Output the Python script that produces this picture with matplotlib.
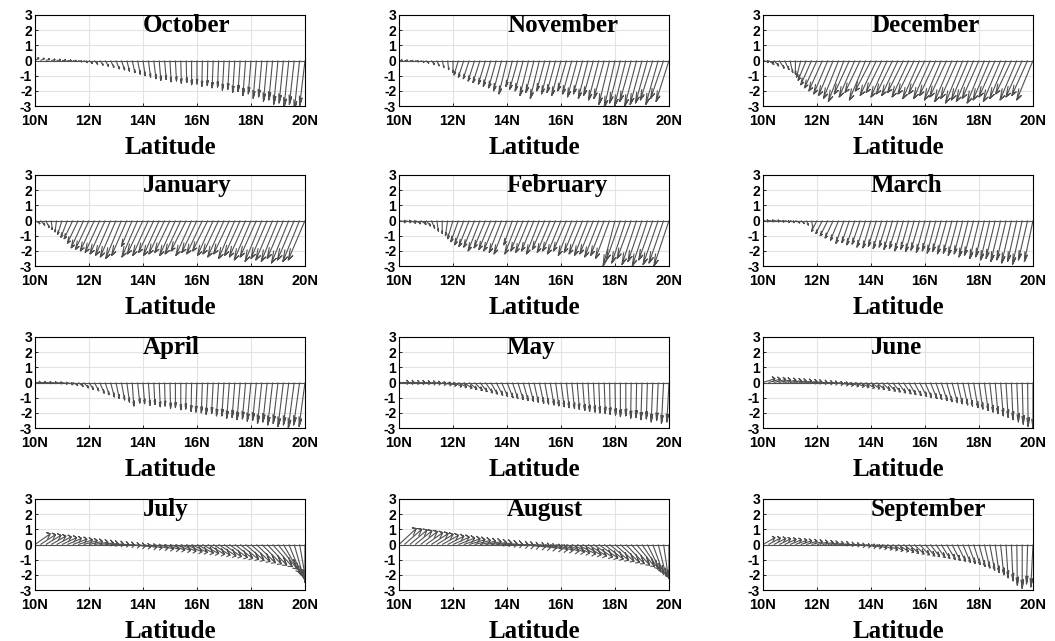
import numpy as np
import matplotlib.pyplot as plt
from matplotlib.collections import LineCollection

plt.rcParams['axes.unicode_minus'] = False

# feather vectors at 0.2 deg steps, 10N..20N (51 points), u/v in plot units
months = ['October', 'November', 'December', 'January', 'February', 'March',
          'April', 'May', 'June', 'July', 'August', 'September']

oct_u = [0.7, 0.7, 0.7, 0.7, 0.7,  0.7, 0.7, 0.7, 0.7, 0.7,  0.6, 0.6, 0.6, 0.6, 0.6,
         0.6, 0.6, 0.5, 0.5, 0.5,  0.4, 0.4, 0.4, 0.3, 0.3,  0.2, 0.2, 0.1, 0.1, 0.0,
         0.0, -0.1, -0.1, -0.2, -0.2,  -0.3, -0.3, -0.4, -0.4, -0.5,  -0.5, -0.6, -0.6, -0.7, -0.7,
         -0.8, -0.8, -0.9, -0.9, -1.0,  -1.0]
oct_v = [0.15, 0.12, 0.08, 0.05, 0.03,  0.0, -0.02, -0.05, -0.08, -0.12,  -0.18, -0.25, -0.3, -0.38, -0.45,
         -0.55, -0.62, -0.7, -0.8, -0.9,  -1.0, -1.1, -1.2, -1.3, -1.25,  -1.4, -1.35, -1.5, -1.45, -1.6,
         -1.55, -1.7, -1.65, -1.8, -1.75,  -1.95, -1.9, -2.1, -2.05, -2.3,  -2.2, -2.5, -2.4, -2.7, -2.6,
         -2.9, -2.8, -3.1, -2.9, -3.3,  -3.0]

nov_u = [0.6, 0.6, 0.6, 0.6, 0.6,  0.5, 0.5, 0.4, 0.3, 0.2,  0.0, -0.8, -1.0, -1.1, -1.2,
         -1.3, -1.3, -1.4, -1.4, -1.5,  -1.5, -1.2, -1.5, -1.5, -1.6,  -1.5, -1.7, -1.5, -1.6, -1.6,
         -1.7, -1.6, -1.7, -1.8, -1.7,  -1.8, -1.8, -1.9, -1.9, -2.0,  -2.0, -2.0, -2.1, -2.1, -2.2,
         -2.2, -2.2, -2.3, -2.3, -2.4,  -2.4]
nov_v = [0.0, -0.02, -0.05, -0.08, -0.12,  -0.18, -0.25, -0.35, -0.45, -0.6,  -0.8, -0.95, -1.1, -1.2, -1.35,
         -1.45, -1.55, -1.7, -1.8, -2.0,  -2.2, -1.7, -1.9, -2.0, -2.3,  -2.1, -2.5, -2.0, -2.2, -2.1,
         -2.3, -2.0, -2.2, -2.4, -2.2,  -2.5, -2.3, -2.6, -2.5, -2.9,  -3.1, -2.8, -3.0, -2.7, -3.0,
         -2.9, -2.8, -2.6, -2.9, -2.5,  -2.7]

dec_u = [1.0, 1.0, 0.9, 0.9, 0.8,  0.5, 0.0, -0.8, -1.5, -2.0,  -2.3, -2.5, -2.6, -2.7, -2.8,
         -2.9, -2.8, -2.9, -2.8, -3.0,  -2.9, -3.0, -2.9, -3.0, -3.0,  -3.0, -2.9, -3.1, -3.0, -3.1,
         -3.0, -3.1, -3.0, -3.1, -3.1,  -3.2, -3.1, -3.2, -3.1, -3.2,  -3.1, -3.2, -3.1, -3.0, -3.2,
         -3.0, -2.9, -3.1, -3.0, -2.9,  -3.0]
dec_v = [-0.1, -0.25, -0.35, -0.5, -0.6,  -0.8, -0.9, -1.1, -1.3, -1.6,  -1.8, -2.0, -2.2, -2.3, -2.5,
         -2.7, -2.2, -2.4, -2.1, -2.6,  -2.0, -2.3, -2.1, -2.4, -2.2,  -2.3, -2.1, -2.4, -2.2, -2.5,
         -2.2, -2.5, -2.3, -2.6, -2.4,  -2.7, -2.5, -2.8, -2.6, -2.7,  -2.5, -2.8, -2.6, -2.4, -2.7,
         -2.5, -2.2, -2.6, -2.4, -2.3,  -2.6]

jan_u = [0.9, 0.8, 0.6, 0.2, -0.3,  -0.8, -1.2, -1.6, -2.0, -2.3,  -2.5, -2.6, -2.7, -2.8, -2.8,
         -2.9, -2.9, -2.8, -2.0, -2.9,  -2.9, -2.9, -2.8, -2.9, -2.9,  -2.8, -2.9, -2.9, -2.8, -2.9,
         -2.8, -2.9, -2.8, -2.9, -2.9,  -3.0, -2.9, -3.0, -2.9, -3.0,  -3.1, -3.0, -3.1, -3.0, -3.1,
         -3.1, -3.0, -3.2, -3.1, -3.1,  -3.1]
jan_v = [-0.2, -0.3, -0.45, -0.6, -0.75,  -0.9, -1.1, -1.2, -1.5, -1.8,  -1.9, -2.0, -2.1, -2.2, -2.3,
         -2.4, -2.5, -2.3, -1.7, -2.4,  -2.2, -2.3, -2.1, -2.3, -2.2,  -2.1, -2.3, -2.2, -2.0, -2.3,
         -2.1, -2.2, -2.0, -2.3, -2.2,  -2.4, -2.2, -2.5, -2.3, -2.4,  -2.6, -2.4, -2.7, -2.5, -2.6,
         -2.7, -2.5, -2.8, -2.6, -2.7,  -2.6]

feb_u = [1.2, 1.2, 1.1, 1.0, 1.0,  0.8, 0.6, 0.3, 0.0, -0.4,  -1.0, -1.4, -1.7, -1.9, -2.0,
         -2.2, -2.1, -2.2, -2.3, -2.3,  -2.4, -1.6, -2.4, -2.3, -2.4,  -2.3, -2.4, -2.3, -2.4, -2.4,
         -2.5, -2.4, -2.5, -2.4, -2.5,  -2.5, -2.5, -2.6, -2.5, -2.6,  -2.2, -2.6, -2.6, -2.6, -2.7,
         -2.6, -2.8, -2.6, -2.8, -2.7,  -2.8]
feb_v = [-0.1, -0.1, -0.15, -0.2, -0.25,  -0.35, -0.5, -0.7, -0.85, -1.0,  -1.2, -1.4, -1.6, -1.7, -1.75,
         -2.0, -1.8, -1.9, -2.0, -2.1,  -2.2, -1.6, -2.2, -2.0, -2.1,  -2.0, -2.2, -1.9, -2.1, -2.0,
         -2.2, -2.0, -2.3, -2.1, -2.2,  -2.3, -2.2, -2.4, -2.3, -2.5,  -3.0, -2.6, -2.8, -2.5, -2.9,
         -2.7, -3.0, -2.6, -2.9, -2.8,  -3.0]

mar_u = [1.0, 1.0, 1.0, 0.9, 0.9,  0.8, 0.8, 0.6, 0.4, 0.2,  -1.0, -1.2, -1.4, -1.5, -1.5,
         -1.5, -1.4, -1.5, -1.5, -1.6,  -1.5, -1.5, -1.6, -1.5, -1.6,  -1.6, -1.6, -1.5, -1.6, -1.6,
         -1.6, -1.5, -1.6, -1.6, -1.7,  -1.6, -1.7, -1.6, -1.7, -1.7,  -1.7, -1.6, -1.7, -1.7, -1.8,
         -1.7, -1.8, -1.7, -1.8, -1.7,  -1.6]
mar_v = [-0.05, -0.05, -0.06, -0.08, -0.1,  -0.12, -0.15, -0.2, -0.3, -0.45,  -0.7, -0.85, -1.0, -1.15, -1.3,
         -1.5, -1.45, -1.6, -1.55, -1.75,  -1.8, -1.7, -1.85, -1.75, -1.9,  -1.85, -2.0, -1.9, -2.05, -1.95,
         -2.1, -2.0, -2.15, -2.05, -2.2,  -2.15, -2.3, -2.2, -2.4, -2.3,  -2.5, -2.4, -2.6, -2.5, -2.7,
         -2.6, -2.8, -2.7, -2.9, -2.6,  -2.7]

apr_u = [1.0, 1.0, 1.0, 1.0, 1.0,  1.0, 1.0, 0.9, 0.9, 0.9,  0.8, 0.8, 0.8, 0.7, 0.7,
         0.6, 0.6, 0.5, 0.3, 0.4,  0.3, 0.3, 0.2, 0.2, 0.1,  0.1, 0.0, 0.0, -0.1, -0.1,
         -0.2, -0.2, -0.3, -0.3, -0.4,  -0.4, -0.5, -0.5, -0.6, -0.6,  -0.7, -0.7, -0.8, -0.8, -0.9,
         -0.9, -1.0, -1.0, -1.1, -1.1,  -1.1]
apr_v = [0.0, -0.01, -0.02, -0.03, -0.05,  -0.08, -0.12, -0.18, -0.25, -0.35,  -0.45, -0.55, -0.7, -0.8, -0.95,
         -1.05, -1.15, -1.3, -1.55, -1.35,  -1.4, -1.5, -1.45, -1.6, -1.55,  -1.7, -1.65, -1.8, -1.75, -1.9,
         -1.95, -2.0, -2.1, -2.05, -2.2,  -2.2, -2.35, -2.3, -2.45, -2.4,  -2.55, -2.5, -2.7, -2.6, -2.8,
         -2.7, -2.9, -2.8, -3.0, -2.8,  -2.9]

may_u = [1.8, 1.8, 1.8, 1.8, 1.8,  1.8, 1.7, 1.7, 1.7, 1.6,  1.6, 1.5, 1.5, 1.4, 1.4,
         1.3, 1.3, 1.2, 1.2, 1.1,  1.1, 1.0, 1.0, 0.9, 0.9,  0.8, 0.8, 0.7, 0.7, 0.6,
         0.6, 0.5, 0.5, 0.4, 0.4,  0.3, 0.3, 0.2, 0.2, 0.1,  0.1, 0.0, 0.0, -0.1, -0.1,
         -0.2, -0.2, -0.3, -0.3, -0.4,  -0.4]
may_v = [0.0, 0.0, -0.01, -0.02, -0.03,  -0.05, -0.07, -0.1, -0.14, -0.19,  -0.25, -0.3, -0.37, -0.45, -0.52,
         -0.6, -0.68, -0.76, -0.84, -0.92,  -1.0, -1.06, -1.12, -1.18, -1.24,  -1.3, -1.36, -1.42, -1.48, -1.54,
         -1.6, -1.66, -1.72, -1.78, -1.84,  -1.9, -1.95, -2.0, -2.05, -2.1,  -2.15, -2.25, -2.2, -2.35, -2.3,
         -2.45, -2.4, -2.6, -2.5, -2.7,  -2.6]

jun_u = [2.2, 2.2, 2.2, 2.1, 2.1,  2.1, 2.0, 2.0, 2.0, 1.9,  1.9, 1.9, 1.8, 1.8, 1.8,
         1.7, 1.7, 1.7, 1.6, 1.6,  1.6, 1.5, 1.5, 1.5, 1.4,  1.4, 1.4, 1.3, 1.3, 1.3,
         1.2, 1.2, 1.1, 1.1, 1.0,  1.0, 0.9, 0.9, 0.8, 0.8,  0.7, 0.7, 0.6, 0.5, 0.5,
         0.4, 0.3, 0.3, 0.2, 0.1,  0.0]
jun_v = [0.25, 0.22, 0.2, 0.18, 0.15,  0.12, 0.1, 0.08, 0.05, 0.03,  0.0, -0.03, -0.06, -0.1, -0.14,
         -0.18, -0.22, -0.26, -0.3, -0.35,  -0.4, -0.45, -0.5, -0.56, -0.62,  -0.68, -0.74, -0.8, -0.86, -0.92,
         -1.0, -1.06, -1.12, -1.18, -1.26,  -1.33, -1.4, -1.48, -1.56, -1.65,  -1.75, -1.85, -1.95, -2.05, -2.2,
         -2.3, -2.45, -2.6, -2.75, -2.9,  -3.0]

jul_u = [2.8, 2.8, 2.8, 2.7, 2.7,  2.7, 2.6, 2.6, 2.6, 2.5,  2.5, 2.5, 2.5, 2.4, 2.4,
         2.4, 2.4, 2.4, 2.4, 2.4,  2.5, 2.5, 2.6, 2.6, 2.7,  2.7, 2.8, 2.8, 2.9, 2.9,
         3.0, 3.0, 3.1, 3.1, 3.2,  3.2, 3.3, 3.3, 3.4, 3.4,  3.5, 3.5, 3.6, 3.6, 3.6,
         3.5, 3.0, 2.4, 1.8, 1.2,  0.0]
jul_v = [0.7, 0.65, 0.6, 0.55, 0.5,  0.45, 0.4, 0.35, 0.3, 0.25,  0.2, 0.15, 0.1, 0.06, 0.03,
         0.0, -0.04, -0.08, -0.12, -0.16,  -0.2, -0.23, -0.26, -0.3, -0.33,  -0.36, -0.4, -0.44, -0.48, -0.52,
         -0.56, -0.6, -0.65, -0.7, -0.75,  -0.8, -0.86, -0.92, -0.98, -1.05,  -1.12, -1.2, -1.28, -1.36, -1.45,
         -1.6, -1.85, -2.05, -2.25, -2.4,  -2.5]

aug_u = [3.2, 3.2, 3.2, 3.1, 3.1,  3.1, 3.1, 3.0, 3.0, 3.0,  3.0, 3.0, 3.0, 2.9, 2.9,
         2.9, 2.9, 2.9, 2.9, 2.9,  2.9, 3.0, 3.0, 3.0, 3.1,  3.1, 3.1, 3.2, 3.2, 3.2,
         3.3, 3.3, 3.3, 3.4, 3.4,  3.4, 3.5, 3.5, 3.5, 3.5,  3.5, 3.5, 3.4, 3.4, 3.3,
         3.0, 2.5, 2.0, 1.5, 0.9,  0.0]
aug_v = [1.05, 1.0, 0.95, 0.9, 0.85,  0.78, 0.72, 0.66, 0.6, 0.54,  0.48, 0.42, 0.37, 0.32, 0.27,
         0.22, 0.18, 0.13, 0.09, 0.04,  0.0, -0.04, -0.08, -0.12, -0.16,  -0.2, -0.25, -0.3, -0.35, -0.4,
         -0.45, -0.5, -0.56, -0.62, -0.68,  -0.75, -0.82, -0.89, -0.96, -1.03,  -1.1, -1.18, -1.26, -1.35, -1.45,
         -1.6, -1.8, -1.95, -2.1, -2.2,  -2.25]

sep_u = [2.2, 2.2, 2.2, 2.1, 2.1,  2.1, 2.1, 2.0, 2.0, 2.0,  2.0, 2.0, 1.9, 1.9, 1.9,
         1.9, 1.9, 1.9, 1.9, 1.9,  1.9, 1.9, 1.9, 1.9, 1.9,  1.9, 1.9, 1.8, 1.8, 1.8,
         1.8, 1.7, 1.7, 1.6, 1.6,  1.5, 1.5, 1.4, 1.3, 1.2,  1.1, 1.0, 0.9, 0.7, 0.6,
         0.4, 0.3, 0.1, 0.0, -0.2,  -0.4]
sep_v = [0.45, 0.42, 0.4, 0.37, 0.34,  0.31, 0.28, 0.25, 0.22, 0.19,  0.16, 0.13, 0.1, 0.07, 0.04,
         0.0, -0.04, -0.08, -0.12, -0.16,  -0.2, -0.25, -0.3, -0.35, -0.4,  -0.45, -0.5, -0.56, -0.62, -0.68,
         -0.75, -0.8, -0.86, -0.92, -0.98,  -1.05, -1.12, -1.18, -1.25, -1.32,  -1.45, -1.55, -1.7, -1.85, -2.0,
         -2.2, -2.4, -2.7, -2.9, -2.6,  -2.8]

u_all = [oct_u, nov_u, dec_u, jan_u, feb_u, mar_u, apr_u, may_u, jun_u, jul_u, aug_u, sep_u]
v_all = [oct_v, nov_v, dec_v, jan_v, feb_v, mar_v, apr_v, may_v, jun_v, jul_v, aug_v, sep_v]

xtick_labels = ['10N', '12N', '14N', '16N', '18N', '20N']
ytick_vals = [-3, -2, -1, 0, 1, 2, 3]

W, H = 1055, 641
col_left = [35, 399, 763]
row_top = [15, 175, 337, 499]
ax_w, ax_h = 270, 91

arrow_col = '#505050'


def feather(ax, u, v):
    # same geometry as matlab's feather: arrow from (i,0) to (i+u, v)
    u = np.asarray(u, dtype=float)
    v = np.asarray(v, dtype=float)
    n = len(u)
    shape = np.array([0, 1, 0.8 + 0.08j, 1, 0.8 - 0.08j])
    segs = []
    for i in range(n):
        a = shape * (u[i] + 1j * v[i])
        segs.append(np.column_stack([i + 1 + a.real, a.imag]))
    ax.add_collection(LineCollection(segs, colors=arrow_col, linewidths=0.8))
    ax.plot([1, n], [0, 0], color=arrow_col, lw=0.8)
    return n


fig = plt.figure(figsize=(W / 100, H / 100), dpi=100)

for k, month in enumerate(months):
    r, c = divmod(k, 3)
    ax = fig.add_axes([col_left[c] / W, 1 - (row_top[r] + ax_h) / H, ax_w / W, ax_h / H])
    n = feather(ax, u_all[k], v_all[k])
    ax.set_xlim(1, n)
    ax.set_ylim(-3, 3)
    ax.set_xticks(np.linspace(1, n, len(xtick_labels)))
    ax.set_xticklabels(xtick_labels)
    ax.set_yticks(ytick_vals)
    ax.set_yticklabels([str(t) for t in ytick_vals])
    ax.tick_params(direction='in', length=2, width=0.6)
    ax.tick_params(axis='x', pad=6)
    ax.tick_params(axis='y', pad=2)
    for lab in ax.get_xticklabels() + ax.get_yticklabels():
        lab.set_fontfamily('Liberation Sans')
        lab.set_fontweight('bold')
        lab.set_fontsize(10.5)
    for lab in ax.get_yticklabels():
        lab.set_fontsize(10)
    ax.grid(True, color='#e3e3e3', lw=0.8)
    ax.set_axisbelow(True)
    for sp in ax.spines.values():
        sp.set_linewidth(0.8)
    ax.text(0.4, 0.81, month, transform=ax.transAxes, ha='left', va='baseline',
            fontfamily='Liberation Serif', fontweight='bold', fontsize=18)
    ax.set_xlabel('Latitude', fontfamily='Liberation Serif', fontweight='bold', fontsize=18)
    ax.xaxis.label.set_va('baseline')
    ax.xaxis.set_label_coords(0.5, -48 / ax_h)

fig.savefig('out.png', dpi=100)
